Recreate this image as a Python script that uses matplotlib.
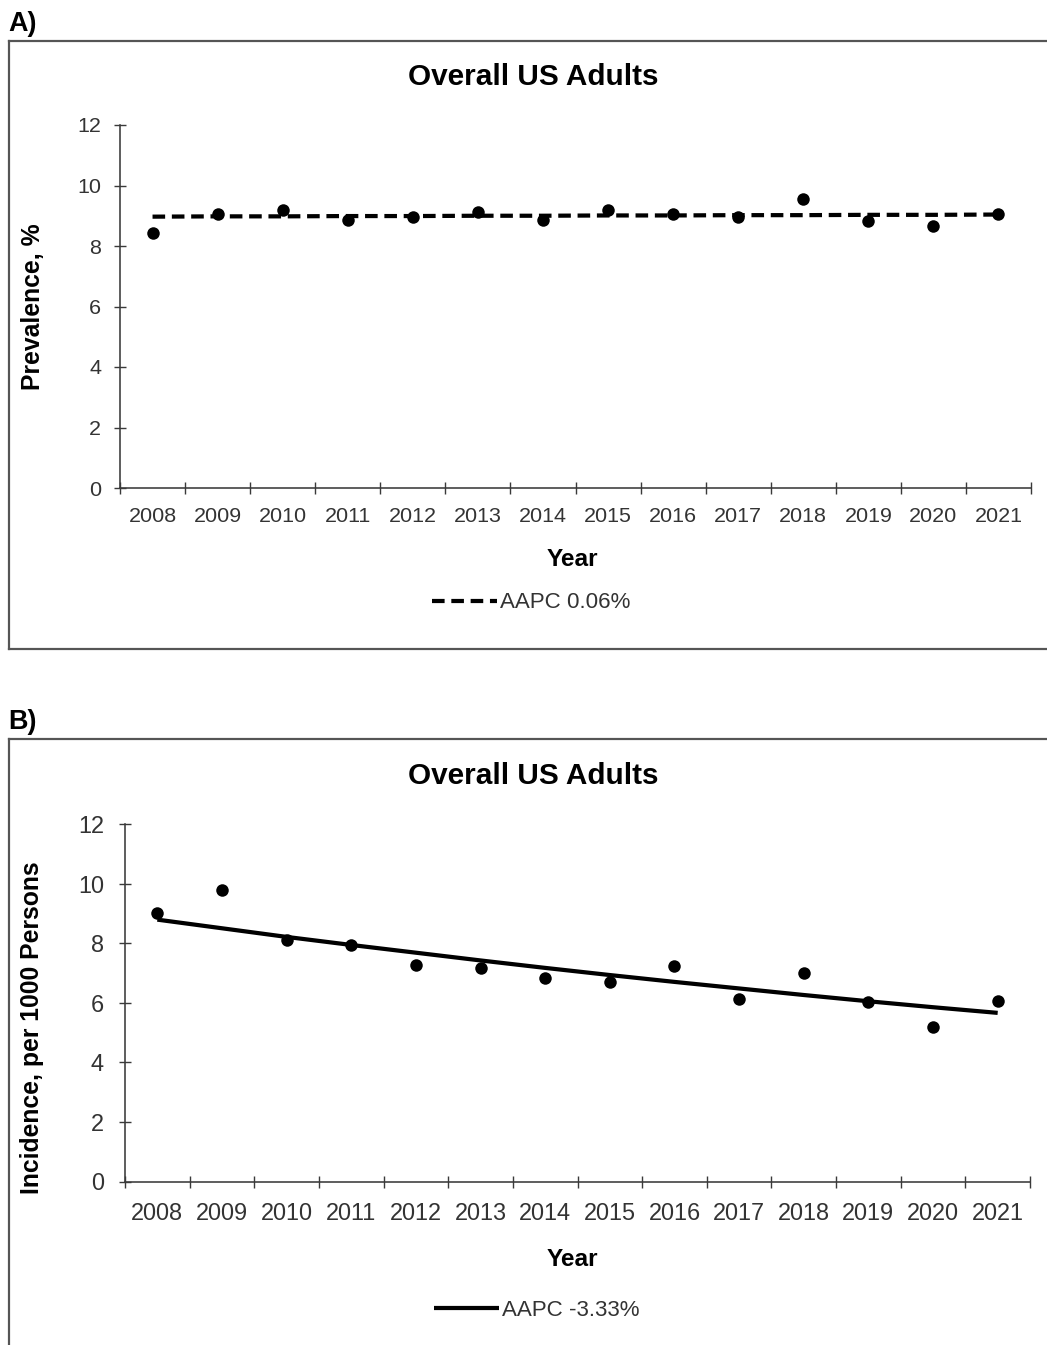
import matplotlib
matplotlib.use("Agg")
import matplotlib.pyplot as plt
from matplotlib.patches import Rectangle
from matplotlib.lines import Line2D

plt.rcParams['font.family'] = ['Liberation Sans', 'DejaVu Sans']

# ---- data ----
years = ["2008", "2009", "2010", "2011", "2012", "2013", "2014",
         "2015", "2016", "2017", "2018", "2019", "2020", "2021"]

prevalence = [8.42, 9.07, 9.18, 8.86, 8.95, 9.13, 8.87,
              9.20, 9.07, 8.97, 9.56, 8.83, 8.66, 9.05]
prevalence_trend = [8.97, 8.98, 8.98, 8.99, 8.99, 9.00, 9.00,
                    9.01, 9.01, 9.02, 9.02, 9.03, 9.03, 9.04]

incidence = [9.01, 9.80, 8.11, 7.94, 7.27, 7.18, 6.82,
             6.70, 7.23, 6.11, 6.99, 6.01, 5.18, 6.06]
incidence_trend = [8.79, 8.50, 8.21, 7.94, 7.68, 7.42, 7.17,
                   6.93, 6.70, 6.48, 6.26, 6.05, 5.85, 5.66]

yticks = [0, 2, 4, 6, 8, 10, 12]

W, H = 1047, 1345
DPI = 100
fig = plt.figure(figsize=(W / DPI, H / DPI), dpi=DPI)


def fx(px):
    return px / W


def fy(py):
    return 1 - py / H


def pt(px):
    return px * 72 / DPI


AXIS_C = "#3a3a3a"
TEXT_C = "#333333"
FRAME_C = "#555555"


def panel(rect, values, trend, trend_style, ylabel, legend_text,
          tick_fs, tick_pad_x, tick_pad_y, title_y, xlabel_y, ylabel_xy,
          legend_xy, letter, letter_y, frame_top, frame_bottom):
    left, right, top, bottom = rect
    ax = fig.add_axes([fx(left), fy(bottom), fx(right - left), (bottom - top) / H])
    x = list(range(len(years)))

    ax.plot(x, trend, color="black", lw=pt(4.2), solid_capstyle="butt",
            dash_capstyle="butt", **trend_style, zorder=2, label=legend_text)
    ax.plot(x, values, "o", color="black", markersize=pt(12.5),
            markeredgewidth=0, zorder=3)

    ax.set_xlim(-0.5, len(years) - 0.5)
    ax.set_ylim(0, 12)
    ax.set_yticks(yticks)
    ax.set_yticklabels([str(v) for v in yticks])
    ax.set_xticks([i - 0.5 for i in range(len(years) + 1)])
    ax.set_xticklabels([])
    ax.set_xticks(x, minor=True)
    ax.set_xticklabels(years, minor=True)

    for s in ("top", "right"):
        ax.spines[s].set_visible(False)
    for s in ("left", "bottom"):
        ax.spines[s].set_color(AXIS_C)
        ax.spines[s].set_linewidth(pt(1.6))

    ax.tick_params(axis="both", which="major", direction="inout",
                   length=pt(12), width=pt(1.4), color=AXIS_C)
    ax.tick_params(axis="x", which="minor", length=0, pad=tick_pad_x,
                   labelsize=tick_fs, labelcolor=TEXT_C)
    ax.tick_params(axis="y", which="major", pad=tick_pad_y,
                   labelsize=tick_fs, labelcolor=TEXT_C)
    ax.set_clip_on(False)
    for art in ax.lines:
        art.set_clip_on(False)

    fig.text(fx(533), fy(title_y), "Overall US Adults", ha="center",
             va="center", fontsize=pt(29.7), fontweight="bold", color="black")
    fig.text(fx(572), fy(xlabel_y), "Year", ha="center", va="center",
             fontsize=pt(24.4), fontweight="bold", color="black")
    fig.text(fx(ylabel_xy[0]), fy(ylabel_xy[1]), ylabel, ha="center",
             va="center", rotation=90, fontsize=pt(24.8), fontweight="bold",
             color="black")
    fig.text(fx(8), fy(letter_y), letter, ha="left", va="center",
             fontsize=pt(27), fontweight="bold", color="black")

    leg = fig.legend(handles=[ax.lines[0]], loc="center",
                     bbox_to_anchor=(fx(legend_xy[0]), fy(legend_xy[1])),
                     frameon=False, fontsize=pt(22.4), handlelength=2.9,
                     handletextpad=0.15, borderpad=0, labelcolor=TEXT_C)

    fig.add_artist(Line2D([fx(9), fx(W + 20)], [fy(frame_top), fy(frame_top)],
                          color=FRAME_C, lw=pt(2.2)))
    fig.add_artist(Line2D([fx(9), fx(9)], [fy(frame_top), fy(frame_bottom)],
                          color=FRAME_C, lw=pt(2.2)))
    if frame_bottom < H:
        fig.add_artist(Line2D([fx(9), fx(W + 20)],
                              [fy(frame_bottom), fy(frame_bottom)],
                              color=FRAME_C, lw=pt(2.2)))
    return ax


panel((120, 1031, 125, 488), prevalence, prevalence_trend,
      dict(linestyle=(0, (3.0, 1.6))), "Prevalence, %", "AAPC 0.06%",
      tick_fs=pt(21.5), tick_pad_x=pt(19), tick_pad_y=pt(13),
      title_y=77, xlabel_y=560, ylabel_xy=(33, 307), legend_xy=(531, 603),
      letter="A)", letter_y=24, frame_top=41, frame_bottom=649)

panel((125, 1030, 824, 1181.5), incidence, incidence_trend,
      dict(linestyle="-"), "Incidence, per 1000 Persons", "AAPC -3.33%",
      tick_fs=pt(23.5), tick_pad_x=pt(21), tick_pad_y=pt(15),
      title_y=776, xlabel_y=1260, ylabel_xy=(32, 1028), legend_xy=(537, 1310),
      letter="B)", letter_y=722, frame_top=739, frame_bottom=H + 20)

fig.savefig("out.png", dpi=DPI, facecolor="white")
